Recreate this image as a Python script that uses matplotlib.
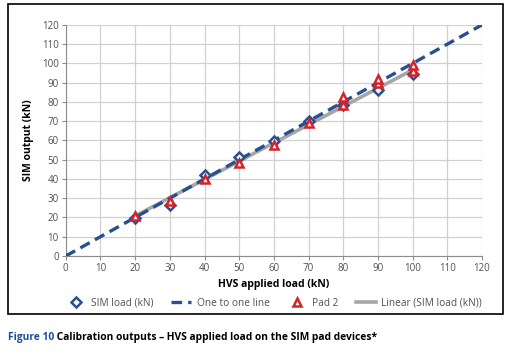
import matplotlib.pyplot as plt
import matplotlib.patches as patches
import numpy as np

# HVS applied load (kN)
sim_x = [20, 30, 40, 50, 60, 70, 80, 90, 100]
sim_y = [19.6, 26.5, 42.3, 51.2, 59.8, 70.2, 78.2, 86.0, 94.5]

pad2_x = [20, 30, 40, 50, 60, 70, 80, 80, 90, 90, 100, 100]
pad2_y = [21.0, 28.6, 39.8, 48.2, 57.8, 68.8, 78.4, 82.5, 89.6, 91.8, 96.0, 99.3]

one_to_one = [0, 120]

ticks = list(range(0, 121, 10))

plt.rcParams['font.family'] = ['Open Sans', 'DejaVu Sans']

fig = plt.figure(figsize=(5.1, 3.56), dpi=100)
ax = fig.add_axes([0.129, 0.281, 0.816, 0.649])

blue = '#27508f'
red = '#d2232a'
grey = '#a6a6a6'

# trend line for SIM load
coef = np.polyfit(sim_x, sim_y, 1)
fit_x = np.array([min(sim_x), max(sim_x)])
ax.plot(fit_x, np.polyval(coef, fit_x), color=grey, linewidth=2.6,
        label='Linear (SIM load (kN))', zorder=2)

ax.plot(one_to_one, one_to_one, color=blue, linewidth=2.4, linestyle=(0, (3.2, 1.8)),
        label='One to one line', zorder=3)

ax.plot(sim_x, sim_y, linestyle='none', marker='D', markersize=5.5, mfc='white',
        mec=blue, mew=1.8, label='SIM load (kN)', zorder=4)
ax.plot(pad2_x, pad2_y, linestyle='none', marker='^', markersize=5.5, mfc='white',
        mec=red, mew=1.8, label='Pad 2', zorder=5)

ax.set_xlim(0, 120)
ax.set_ylim(0, 120)
ax.set_xticks(ticks)
ax.set_yticks(ticks)
ax.grid(True, color='#d0d0d0', linewidth=0.9)
ax.set_axisbelow(True)
for s in ['top', 'right']:
    ax.spines[s].set_visible(False)
for s in ['left', 'bottom']:
    ax.spines[s].set_color('#8c8c8c')
ax.tick_params(axis='both', labelsize=7, colors='#8c8c8c', labelcolor='#505050',
               length=3, width=0.8, pad=2)

ax.set_xlabel('HVS applied load (kN)', fontsize=7.5, fontweight='bold', labelpad=4)
ax.set_ylabel('SIM output (kN)', fontsize=7.5, fontweight='bold', labelpad=6)

h, l = ax.get_legend_handles_labels()
order = [2, 1, 3, 0]
ax.legend([h[i] for i in order], [l[i] for i in order], loc='center',
          bbox_to_anchor=(0.5, -0.205), ncol=4, frameon=False, fontsize=7.3,
          handlelength=2.0, columnspacing=1.7, handletextpad=0.5,
          labelcolor='#505050', borderaxespad=0)

# border box around chart
fig.patches.append(patches.Rectangle((8 / 510, 1 - 314 / 356), 495 / 510, 310 / 356,
                                     transform=fig.transFigure, fill=False,
                                     edgecolor='black', linewidth=1.2))

t1 = fig.text(8 / 510, 1 - 340 / 356, 'Figure 10', fontsize=7.4, fontweight='bold',
              color='#1f4e9c')
ax.annotate(' Calibration outputs \u2013 HVS applied load on the SIM pad devices*',
            xy=(1, 0), xycoords=t1, fontsize=7.4, fontweight='bold', color='black',
            va='bottom', annotation_clip=False)

fig.savefig('out.png', dpi=100)
